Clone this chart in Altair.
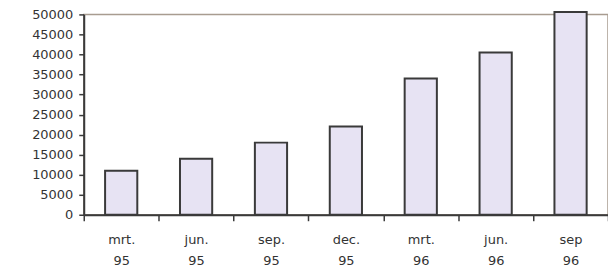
import altair as alt
import pandas as pd

categories = ["mrt. 95", "jun. 95", "sep. 95", "dec. 95", "mrt. 96", "jun. 96", "sep 96"]
values = [11000, 14000, 18000, 22000, 34000, 40500, 50600]
y_ticks = list(range(0, 50001, 5000))

df = pd.DataFrame({"period": categories, "value": values})

chart = alt.Chart(df).mark_bar(
    width={"band": 0.43},
    fill="#e7e3f3",
    stroke="#3a3a3a",
    strokeWidth=2,
).encode(
    x=alt.X("period:N", sort=categories, title=None,
            scale=alt.Scale(paddingInner=0, paddingOuter=0),
            axis=alt.Axis(labelAngle=0, tickBand="extent",
                          labelExpr="split(datum.label, ' ')",
                          labelLineHeight=21, labelBaseline="top",
                          labelPadding=13, tickSize=6)),
    y=alt.Y("value:Q", title=None,
            scale=alt.Scale(domain=[0, 50000], nice=False, zero=True),
            axis=alt.Axis(values=y_ticks, format="d", tickSize=5, labelPadding=6)),
).properties(
    width=526,
    height=201,
    autosize=alt.AutoSizeParams(type="none"),
    padding={"left": 76, "top": 6, "right": 0, "bottom": 52},
).configure_view(
    stroke="#a89c90",
    strokeWidth=1.5,
).configure_axis(
    domainColor="#3a3a3a",
    domainWidth=2,
    tickColor="#3a3a3a",
    tickWidth=1.5,
    grid=False,
    labelFont="DejaVu Sans",
    labelFontSize=13,
    labelColor="#333333",
)

chart.save("out.html", embed_options={"renderer": "svg", "actions": False})
